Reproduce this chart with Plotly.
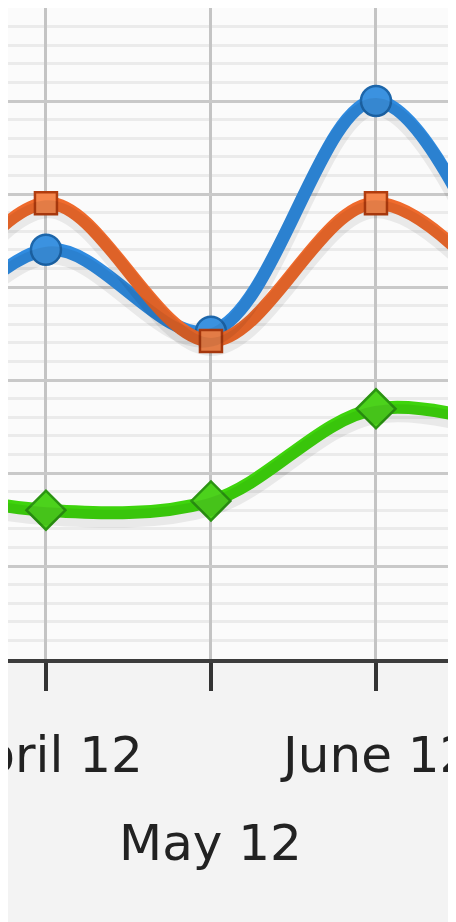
import plotly.graph_objects as go

# ---- data ----
months = ["March 12", "April 12", "May 12", "June 12", "July 12"]
blue_vals = [13.5, 22.0, 17.6, 30.0, 15.0]
orange_vals = [14.1, 24.5, 17.1, 24.5, 17.0]
green_vals = [9.6, 8.0, 8.5, 13.45, 11.8]
label_row = [2, 1, 2, 1, 2]  # staggered tick label rows

W, H = 448, 914
ML, MR, MT, MB = 0, 0, 0, 263
Y_MAX = 35

fig = go.Figure()

series = [
    (blue_vals, "#2f8be0", dict(symbol="circle", size=30, color="#3b92e0",
                                 line=dict(color="#1d66aa", width=2.5))),
    (orange_vals, "#ef6a2c", dict(symbol="square", size=22, color="#f5864c",
                                   line=dict(color="#b23c0e", width=2.5))),
    (green_vals, "#3ed40c", dict(symbol="diamond", size=30, color="#4cd21c",
                                  line=dict(color="#2b9412", width=2.5))),
]

plot_h = H - MT - MB
shift = Y_MAX * 6 / plot_h

# soft shadows (same data, on a slightly shifted overlay axis)
for vals, col, mk in series:
    fig.add_trace(go.Scatter(
        x=months, y=vals, mode="lines", xaxis="x", yaxis="y2",
        line=dict(color="rgba(0,0,0,0.07)", width=18, shape="spline", smoothing=1),
        hoverinfo="skip", showlegend=False))

for vals, col, mk in series:
    fig.add_trace(go.Scatter(
        x=months, y=vals, mode="lines+markers",
        line=dict(color=col, width=13, shape="spline", smoothing=1),
        marker=mk, showlegend=False))

fig.update_layout(
    width=W, height=H,
    margin=dict(l=ML, r=MR, t=MT, b=MB, pad=0),
    paper_bgcolor="#f3f3f3",
    plot_bgcolor="#fbfbfb",
    xaxis=dict(
        type="category", categoryorder="array", categoryarray=months,
        range=[0.77, 3.485],
        showgrid=True, gridcolor="#c4c4c4", gridwidth=3,
        showline=True, linecolor="#3c3c3c", linewidth=4,
        ticks="outside", ticklen=28, tickwidth=4, tickcolor="#333333",
        showticklabels=False, zeroline=False,
    ),
    yaxis=dict(
        range=[0, Y_MAX], dtick=5, tick0=0,
        showgrid=True, gridcolor="#c9c9c9", gridwidth=3,
        minor=dict(dtick=1, tick0=0, showgrid=True, gridcolor="#ebebeb", gridwidth=3),
        showticklabels=False, zeroline=False, showline=False, ticks="",
    ),
    yaxis2=dict(
        range=[shift, Y_MAX + shift], overlaying="y",
        showgrid=False, showticklabels=False, zeroline=False, visible=False,
    ),
)

# staggered category labels
for m, row in zip(months, label_row):
    fig.add_annotation(
        x=m, xref="x", y=0, yref="paper", yanchor="middle",
        yshift=-(96 if row == 1 else 184),
        text=m, showarrow=False,
        font=dict(family="DejaVu Sans", size=50, color="#222222"),
    )

fig.write_html("out.html")
